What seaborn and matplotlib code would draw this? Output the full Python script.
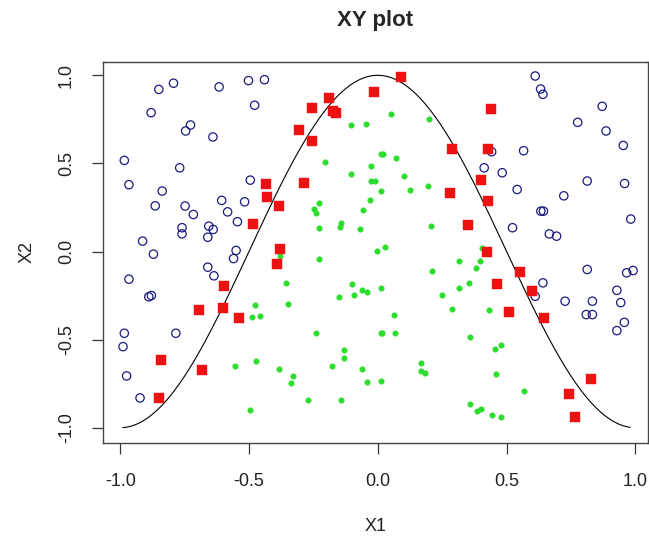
import numpy as np
import pandas as pd
import matplotlib
matplotlib.use("Agg")
import matplotlib.pyplot as plt
import seaborn as sns

# ---- data ----
blue_x1 = [-0.850, -0.793, -0.616, -0.502, -0.440, -0.880, -0.478, -0.727, -0.746, -0.640,
           -0.984, -0.769, -0.966, -0.495, -0.837, -0.606, -0.517, -0.864, -0.748, -0.716,
           -0.583, -0.545, -0.760, -0.760, -0.656, -0.639, -0.660, -0.913, -0.871, -0.550,
           -0.560, -0.966, -0.660, -0.636, -0.889, -0.879, -0.984, -0.784, -0.989, -0.975,
           -0.923,
           0.611, 0.632, 0.641, 0.871, 0.776, 0.886, 0.953, 0.442, 0.566, 0.413,
           0.483, 0.813, 0.958, 0.541, 0.722, 0.633, 0.643, 0.982, 0.523, 0.666,
           0.694, 0.813, 0.966, 0.991, 0.641, 0.611, 0.727, 0.833, 0.928, 0.943,
           0.809, 0.833, 0.957, 0.928]
blue_x2 = [0.920, 0.955, 0.934, 0.970, 0.975, 0.788, 0.830, 0.718, 0.684, 0.650,
           0.517, 0.475, 0.379, 0.405, 0.343, 0.290, 0.282, 0.259, 0.258, 0.210,
           0.225, 0.169, 0.135, 0.100, 0.144, 0.125, 0.081, 0.059, -0.015, 0.006,
           -0.040, -0.157, -0.089, -0.138, -0.257, -0.250, -0.464, -0.464, -0.540, -0.706,
           -0.831,
           0.996, 0.922, 0.892, 0.824, 0.733, 0.684, 0.602, 0.566, 0.572, 0.475,
           0.447, 0.400, 0.386, 0.352, 0.316, 0.229, 0.229, 0.184, 0.135, 0.100,
           0.087, -0.102, -0.121, -0.108, -0.178, -0.254, -0.282, -0.282, -0.220, -0.290,
           -0.358, -0.358, -0.402, -0.449]

green_x1 = [-0.105, -0.046, -0.205, -0.105, -0.028, -0.028, -0.010, 0.011, 0.011, -0.229,
            -0.247, -0.238, -0.032, -0.058, -0.143, -0.148, -0.228, -0.071, -0.005,
            0.053, 0.198, 0.020, 0.072, 0.101, 0.126, 0.193, 0.207, 0.029, 0.405,
            -0.378, -0.229, -0.358, -0.100, -0.152, -0.091, -0.061, -0.042, 0.011, -0.349,
            -0.478, -0.488, -0.459, -0.238, 0.011, -0.132, -0.132, -0.555, -0.474, -0.382,
            -0.331, -0.335, -0.177, -0.061, -0.042, -0.272, -0.143, -0.496, 0.011,
            0.316, 0.398, 0.383, 0.211, 0.316, 0.355, 0.250, 0.288, 0.431, 0.062,
            0.015, 0.067, 0.359, 0.456, 0.479, 0.169, 0.169, 0.183, 0.460, 0.566,
            0.359, 0.386, 0.402, 0.445, 0.479]
green_x2 = [0.720, 0.725, 0.510, 0.441, 0.483, 0.398, 0.398, 0.555, 0.343, 0.275,
            0.244, 0.220, 0.290, 0.233, 0.163, 0.138, 0.135, 0.129, 0.002,
            0.780, 0.754, 0.551, 0.530, 0.426, 0.350, 0.369, 0.142, 0.024, 0.021,
            -0.027, -0.040, -0.178, -0.186, -0.261, -0.248, -0.220, -0.227, -0.206, -0.297,
            -0.303, -0.373, -0.366, -0.464, -0.464, -0.561, -0.602, -0.651, -0.623, -0.667,
            -0.706, -0.748, -0.651, -0.665, -0.741, -0.845, -0.845, -0.902, -0.737,
            -0.053, -0.053, -0.095, -0.108, -0.206, -0.178, -0.248, -0.324, -0.331, -0.360,
            -0.464, -0.464, -0.485, -0.555, -0.532, -0.631, -0.680, -0.688, -0.693, -0.790,
            -0.867, -0.907, -0.894, -0.930, -0.938]

red_x1 = [-0.191, -0.254, -0.173, -0.161, -0.015, -0.306, -0.255, -0.433, -0.286, -0.430,
          -0.384, -0.483, -0.378, -0.392, -0.596, -0.694, -0.602, -0.537, -0.840, -0.683,
          -0.850,
          0.092, 0.438, 0.289, 0.426, 0.402, 0.279, 0.429, 0.350, 0.422,
          0.553, 0.464, 0.598, 0.509, 0.645, 0.828, 0.744, 0.765]
red_x2 = [0.871, 0.816, 0.797, 0.788, 0.903, 0.689, 0.629, 0.383, 0.386, 0.309,
          0.259, 0.155, 0.017, -0.072, -0.193, -0.333, -0.318, -0.375, -0.617, -0.672,
          -0.831,
          0.990, 0.811, 0.580, 0.580, 0.405, 0.333, 0.286, 0.148, -0.002,
          -0.116, -0.182, -0.222, -0.341, -0.379, -0.723, -0.809, -0.938]

curve_range = [-0.99, 0.98]

x_ticks = [-1.0, -0.5, 0.0, 0.5, 1.0]
y_ticks = [-1.0, -0.5, 0.0, 0.5, 1.0]
tick_labels = ["-1.0", "-0.5", "0.0", "0.5", "1.0"]

# ---- styling ----
sns.set_theme(style="white")
plt.rcParams['font.family'] = ['Liberation Sans', 'DejaVu Sans']

fig = plt.figure(figsize=(6.49, 5.40), dpi=100)
ax = fig.add_axes([0.1582, 0.1802, 0.9989 - 0.1582, 0.8857 - 0.1802])

blue_df = pd.DataFrame({"X1": blue_x1, "X2": blue_x2})
green_df = pd.DataFrame({"X1": green_x1, "X2": green_x2})
red_df = pd.DataFrame({"X1": red_x1, "X2": red_x2})

sns.scatterplot(data=blue_df, x="X1", y="X2", ax=ax, marker="o", s=36,
                facecolor="none", edgecolor="#1a1a80", linewidth=0.9, zorder=3)
sns.scatterplot(data=green_df, x="X1", y="X2", ax=ax, marker="o", s=16,
                color="#2ddd2d", edgecolor="#2ddd2d", linewidth=0.3, zorder=3)
sns.scatterplot(data=red_df, x="X1", y="X2", ax=ax, marker="s", s=50,
                color="#ee1111", edgecolor="#ee1111", linewidth=0.3, zorder=4)

xc = np.linspace(curve_range[0], curve_range[1], 300)
sns.lineplot(x=xc, y=np.cos(np.pi * xc), ax=ax, color="black", linewidth=0.8,
             zorder=2, sort=False)

ax.set_xlim(-1.068, 1.050)
ax.set_ylim(-1.085, 1.077)
ax.set_xticks(x_ticks)
ax.set_xticklabels(tick_labels)
ax.set_yticks(y_ticks)
ax.set_yticklabels(tick_labels, rotation=90, va="center")

ax.tick_params(axis="both", direction="out", length=8, width=0.9, color="#333333",
               labelsize=13, labelcolor="#222222", bottom=True, left=True)
ax.tick_params(axis="x", pad=14)
ax.tick_params(axis="y", pad=12)
for sp in ax.spines.values():
    sp.set_color("#444444")
    sp.set_linewidth(1.0)

ax.set_xlabel("X1", fontsize=13, color="#222222", labelpad=20)
ax.set_ylabel("X2", fontsize=13, color="#222222", labelpad=16)
ax.set_title("XY plot", fontsize=16, fontweight="bold", pad=26)
ax.grid(False)

fig.savefig("out.png", dpi=100)
